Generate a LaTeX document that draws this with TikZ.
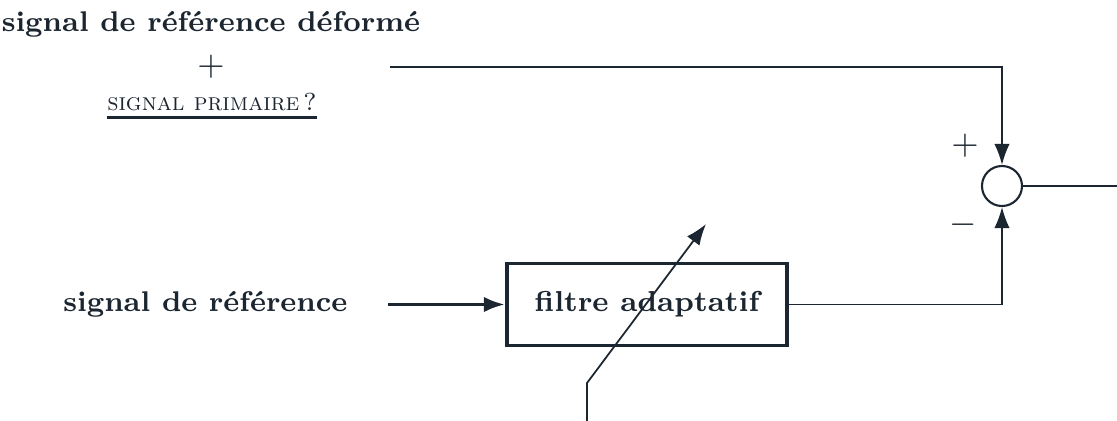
\documentclass[tikz,border=0pt]{standalone}
\usetikzlibrary{arrows.meta}
\definecolor{ink}{RGB}{28,38,48}
\newcommand{\heavyul}[1]{\setbox0\hbox{#1}\leavevmode\rlap{\vrule height -1.7pt depth 2.6pt width \wd0}\box0}
\begin{document}
\begin{tikzpicture}[x=0.01cm,y=-0.01cm,
  ink, line join=miter,
  txt/.style={inner sep=0pt, font=\fontsize{8.1}{10}\selectfont\bfseries},
  sym/.style={inner sep=0pt, font=\fontsize{9.8}{12}\selectfont},
  sctxt/.style={inner sep=0pt, font=\fontsize{7.0}{9}\selectfont},
  thinline/.style={line width=0.5pt},
  thickline/.style={line width=1pt},
  tip/.style={-{Latex[length=6pt,width=4.4pt]}},
  filterbox/.style={draw, line width=1.1pt, minimum width=2.8cm, minimum height=0.82cm, inner sep=0pt,
        font=\fontsize{8.2}{10}\selectfont\bfseries},
  summer/.style={circle, draw, line width=0.6pt, minimum size=0.4cm, inner sep=0pt}]
  \useasboundingbox (0,0) rectangle (1117,421);

  % labels on the left
  \node[txt] (deform) at (211,24) {signal de r\'ef\'erence d\'eform\'e};
  \node[sym] (plus) at (211,67) {$+$};
  \node[sctxt] (prim) at (212,106) {\heavyul{\textsc{signal primaire}\,?}};
  \node[txt, anchor=east] (ref) at (348,304) {signal de r\'ef\'erence};

  % blocks
  \node[filterbox] (filt) at (647,304.5) {filtre adaptatif};
  \node[summer] (sum) at (1002,186) {};
  \node[sym] (splus) at (965,146) {$+$};
  \node[sym] (sminus) at (963,225) {$-$};

  % named points for the connectors
  \coordinate (topin) at (390,67);
  \coordinate (topcorner) at (1002,67);
  \coordinate (refin) at (388,304.5);
  \coordinate (botcorner) at (1002,304.5);
  \coordinate (outend) at (1117,186);
  \coordinate (adjfoot) at (587,421);
  \coordinate (adjknee) at (587,383);
  \coordinate (adjtip) at (706,224);

  % connectors
  \draw[thinline, tip] (topin) -- (topcorner) -- (sum.north);
  \draw[thickline, tip] (refin) -- (filt.west);
  \draw[thinline, tip] (filt.east) -- (botcorner) -- (sum.south);
  \draw[thinline] (sum.east) -- (outend);
  \draw[thinline, tip] (adjfoot) -- (adjknee) -- (adjtip);
\end{tikzpicture}
\end{document}
